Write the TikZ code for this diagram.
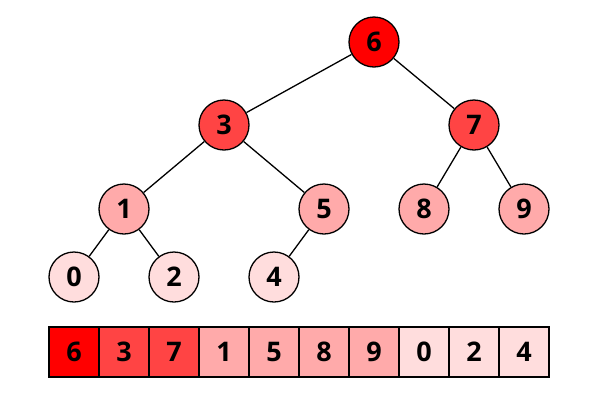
\documentclass[tikz,border=0pt]{standalone}
\usepackage{fontspec}
\setmainfont{Open Sans}
\usetikzlibrary{positioning}

\definecolor{lvlzero}{HTML}{FF0000}
\definecolor{lvlone}{HTML}{FF4444}
\definecolor{lvltwo}{HTML}{FFAAAA}
\definecolor{lvlthree}{HTML}{FFDDDD}

\begin{document}
\begin{tikzpicture}[x=1pt, y=-1pt,
        key/.style={circle, align=center, draw=black, line width=1.3pt, minimum size=50pt, inner sep=0pt, font=\bfseries\fontsize{27}{30}\selectfont},
        cell/.style={rectangle, draw=black, line width=1.3pt, minimum width=50pt, minimum height=50pt, inner sep=0pt, outer sep=0pt, font=\bfseries\fontsize{27}{30}\selectfont}]
        \useasboundingbox (0,0) rectangle (600,400);

        % tree
        \node[key, fill=lvlzero] (k6) at (374,42) {6};
        \node[key, fill=lvlone] (k3) at (224,125) {3};
        \node[key, fill=lvlone] (k7) at (474,125) {7};
        \node[key, fill=lvltwo] (k1) at (124,209) {1};
        \node[key, fill=lvltwo] (k5) at (324,209) {5};
        \node[key, fill=lvltwo] (k8) at (424,209) {8};
        \node[key, fill=lvltwo] (k9) at (524,209) {9};
        \node[key, fill=lvlthree] (k0) at (74,277) {0};
        \node[key, fill=lvlthree] (k2) at (174,277) {2};
        \node[key, fill=lvlthree] (k4) at (274,277) {4};

        \draw[line width=1.3pt] (k6) -- (k3);
        \draw[line width=1.3pt] (k6) -- (k7);
        \draw[line width=1.3pt] (k3) -- (k1);
        \draw[line width=1.3pt] (k3) -- (k5);
        \draw[line width=1.3pt] (k7) -- (k8);
        \draw[line width=1.3pt] (k7) -- (k9);
        \draw[line width=1.3pt] (k1) -- (k0);
        \draw[line width=1.3pt] (k1) -- (k2);
        \draw[line width=1.3pt] (k5) -- (k4);

        % array
        \node[cell, fill=lvlzero] (a0) at (74,352) {6};
        \node[cell, fill=lvlone] (a1) [right=0pt of a0] {3};
        \node[cell, fill=lvlone] (a2) [right=0pt of a1] {7};
        \node[cell, fill=lvltwo] (a3) [right=0pt of a2] {1};
        \node[cell, fill=lvltwo] (a4) [right=0pt of a3] {5};
        \node[cell, fill=lvltwo] (a5) [right=0pt of a4] {8};
        \node[cell, fill=lvltwo] (a6) [right=0pt of a5] {9};
        \node[cell, fill=lvlthree] (a7) [right=0pt of a6] {0};
        \node[cell, fill=lvlthree] (a8) [right=0pt of a7] {2};
        \node[cell, fill=lvlthree] (a9) [right=0pt of a8] {4};
    \end{tikzpicture}
\end{document}
